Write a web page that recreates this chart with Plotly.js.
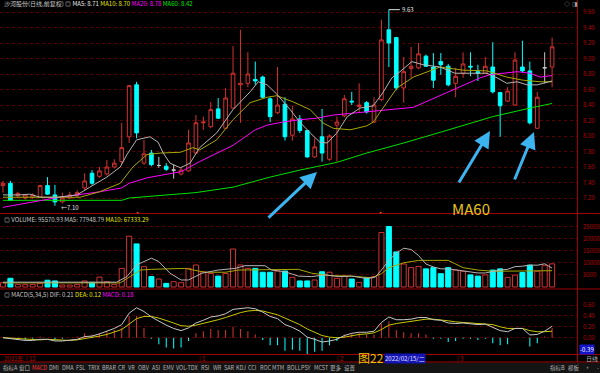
<!DOCTYPE html>
<html><head><meta charset="utf-8">
<script src="https://cdn.plot.ly/plotly-3.0.1.min.js"></script>
<style>html,body{margin:0;padding:0;background:#000;overflow:hidden}#chart{width:600px;height:373px}</style>
</head><body><div id="chart"></div>
<script>
// ---------- data ----------
const openP  = [7.36,7.39,7.23,7.20,7.21, 7.21,7.36,7.24,7.15,7.20, 7.23,7.33,7.52,7.48,7.51, 7.60,7.67,7.99,8.66,7.65, 7.78,7.62,7.61,7.56,7.51, 7.55,7.78,8.17,8.12,8.35, 8.10,8.36,8.66,8.68,8.73, 8.76,8.48,8.30,8.41,8.01, 8.22,8.07,7.73,7.99,7.70, 8.14,8.26,8.45,8.38,8.43, 8.18,8.47,9.37,9.27,8.62, 8.87,8.88,9.03,8.89,8.96, 8.90,8.68,8.81,8.90,8.83, 8.81,8.89,8.56,8.45,8.40, 8.89,8.84,8.10,8.88,8.89];
const highP  = [7.42,7.42,7.28,7.25,7.26, 7.37,7.47,7.37,7.27,7.28, 7.30,7.52,7.56,7.60,7.69, 7.70,8.17,8.66,8.70,7.95, 7.82,7.73,7.65,7.63,7.60, 8.08,8.27,8.25,8.44,8.49, 8.62,9.16,9.37,9.08,8.96, 8.78,8.50,8.89,8.50,8.39, 8.27,8.08,7.97,8.35,8.02, 8.25,8.53,8.57,8.68,8.45, 8.50,9.50,9.63,9.28,9.02, 9.15,9.20,9.05,9.07,9.07, 8.93,8.88,9.08,9.08,8.92, 9.02,9.21,8.57,8.63,9.08, 9.23,8.96,8.57,9.08,9.27];
const lowP   = [7.27,7.16,7.20,7.18,7.19, 7.20,7.24,7.10,7.13,7.19, 7.21,7.30,7.37,7.46,7.49, 7.58,7.64,7.91,7.97,7.63, 7.61,7.59,7.55,7.45,7.49, 7.54,7.77,8.08,8.10,8.22, 8.09,8.35,8.17,8.63,8.66, 8.49,8.18,8.28,7.94,7.94, 8.04,7.72,7.72,7.67,7.68, 7.67,8.24,8.40,8.31,8.29, 8.17,8.45,8.89,8.59,8.43, 8.75,8.86,8.89,8.62,8.79, 8.64,8.50,8.75,8.77,8.71, 8.80,8.55,7.99,8.44,8.39, 8.82,8.15,8.09,8.68,8.63];
const closeP = [7.39,7.17,7.26,7.24,7.24, 7.36,7.25,7.15,7.20,7.24, 7.27,7.42,7.39,7.55,7.60, 7.65,7.85,8.65,8.04,7.77, 7.63,7.62,7.57,7.56,7.56, 7.91,8.17,8.18,8.34,8.23, 8.49,8.81,8.68,8.80,8.71, 8.50,8.25,8.40,7.99,8.22, 8.07,7.73,7.86,7.78,8.00, 8.18,8.48,8.44,8.40,8.31, 8.40,9.24,9.20,8.62,8.83, 8.90,9.06,8.90,8.72,8.92, 8.66,8.77,8.93,8.89,8.81, 8.90,8.57,8.39,8.58,8.98, 8.84,8.17,8.50,8.88,9.15];
const volume = [1800,3600,1100,1100,1100, 1500,2800,2500,800,800, 1100,2500,1900,4100,2200, 1100,7700,21000,17800,8400, 4300,3300,1500,2200,1800, 7700,9100,6300,5600,4500, 5600,15700,9100,7700,7700, 6100,6100,6600,6600,4000, 2500,2500,2900,6300,6100, 3600,4500,3300,1900,3800, 4300,22500,25000,14500,9500, 8000,8500,7500,8000,5500, 8000,7000,6500,5000,4500, 5000,7000,7500,4000,4900, 6000,9000,6500,9000,9557];

// moving-average lines (candle position, value)
const ma5X  = [0,2.3,3.6,5,7.3,10,11.7,14,15.8,16.7,18,19.8,20.9,21.6,22.5,23.9,25.2,26.5,28.8,31,33.3,34.4,35.6,36.9,38.7,40,41.4,42.7,43.7,45,46.4,48.1,49.9,51.2,52.4,53.5,55.1,56.6,58.9,60.9,62.9,65.2,66.6,67.9,69.3,70.6,72,74];
const ma5   = [7.24,7.24,7.25,7.21,7.21,7.24,7.34,7.47,7.60,7.76,7.95,7.99,7.92,7.78,7.65,7.59,7.65,7.85,8.04,8.34,8.57,8.70,8.66,8.54,8.34,8.18,8.04,7.92,7.91,8.04,8.25,8.36,8.39,8.56,8.75,8.83,8.96,8.92,8.89,8.81,8.81,8.81,8.75,8.68,8.70,8.66,8.66,8.71];
const ma10X = [0,10.4,13,15.8,17.5,19.4,21.2,23.9,25.6,26.5,28.8,31,33.3,35.6,36.9,39.1,41.4,43.1,44.5,46.8,49,49.9,51.2,53.1,55.3,58.9,62,65.2,67.9,70.1,72.4,74];
const ma10  = [7.21,7.21,7.28,7.39,7.60,7.76,7.78,7.79,7.85,7.82,7.95,8.21,8.43,8.50,8.52,8.44,8.34,8.17,8.10,8.08,8.13,8.18,8.36,8.62,8.76,8.89,8.85,8.84,8.76,8.72,8.70,8.70];
const ma20X = [0,7,13,16,17,19.4,24,26.5,31,34,35.6,37.7,40,42.3,44.5,49,53.5,55.3,59.8,64.3,65.6,69.3,71,72.4,74];
const ma20  = [7.08,7.20,7.28,7.33,7.39,7.46,7.54,7.67,7.88,8.08,8.14,8.18,8.21,8.23,8.27,8.31,8.35,8.37,8.56,8.75,8.79,8.83,8.81,8.76,8.78];
const ma60X = [0,16,17,26,31,36,40,45,49,54,59,66,71,74];
const ma60  = [7.17,7.17,7.20,7.27,7.34,7.47,7.56,7.66,7.78,7.91,8.05,8.25,8.36,8.42];

const volMa5X  = [0,15.3,16.7,18,20,21,22.5,24,25,26.8,29,31.3,32.6,35.3,36.2,38,39.8,41.6,43.4,45.2,47,48.8,50.1,51,52,53,54,55,56,57,58,59,60,61,62,63,64,65,66,67,68,69,70,71,72,73,74];
const volMa5   = [2000,2000,4300,9100,11900,10500,5700,2900,2900,5700,7000,7700,8800,8800,7000,6300,4500,4300,5000,4300,4500,3600,3900,7000,11000,14000,16000,15500,13000,9500,8300,7500,7500,7000,6800,6300,5800,5800,6500,7000,7300,8400,8600,9100,9000,9600,7795];
const volMa10X = [0,15.8,17.5,18.5,20,24.5,27.2,30,31.7,35.7,39.8,41.6,44.3,47,49.7,51,52,53,54,55,56,58,60,61,62,63,64,66,68,70,72,74];
const volMa10  = [1700,1700,5000,7000,7300,7700,6100,6100,7000,7300,7300,5700,4700,4500,3800,5500,8000,9000,10000,10500,11000,11000,11000,9500,8000,7500,7000,6500,6500,6600,6700,6733];

const dif  = [0.00,-0.02,-0.04,-0.05,-0.05, -0.03,-0.03,-0.06,-0.06,-0.05, -0.03,0.02,0.03,0.07,0.12, 0.17,0.24,0.45,0.55,0.48, 0.38,0.30,0.23,0.17,0.13, 0.18,0.27,0.32,0.38,0.40, 0.44,0.52,0.54,0.55,0.53, 0.47,0.39,0.35,0.24,0.19, 0.12,0.01,-0.03,-0.08,-0.06, -0.03,0.04,0.08,0.10,0.10, 0.12,0.28,0.38,0.33,0.33, 0.34,0.37,0.37,0.33,0.32, 0.27,0.26,0.27,0.26,0.24, 0.25,0.19,0.13,0.11,0.17, 0.17,0.05,0.06,0.12,0.21];
const dea  = [0.00,-0.01,-0.02,-0.03,-0.04, -0.04,-0.03,-0.04,-0.05,-0.05, -0.04,-0.02,0.00,0.03,0.06, 0.10,0.15,0.25,0.35,0.39, 0.39,0.36,0.32,0.27,0.22, 0.21,0.23,0.26,0.30,0.33, 0.37,0.42,0.46,0.49,0.50, 0.49,0.46,0.42,0.36,0.30, 0.24,0.16,0.10,0.04,0.01, 0.00,0.01,0.04,0.06,0.07, 0.09,0.15,0.23,0.26,0.28, 0.30,0.33,0.34,0.34,0.33, 0.31,0.29,0.28,0.27,0.26, 0.26,0.24,0.20,0.17,0.17, 0.17,0.13,0.11,0.11,0.12];
const macd = [0.00,-0.02,-0.04,-0.04,-0.02, 0.02,0.00,-0.04,-0.02,0.00, 0.02,0.08,0.06,0.08,0.12, 0.14,0.18,0.40,0.40,0.18, -0.02,-0.12,-0.18,-0.20,-0.18, -0.06,0.08,0.12,0.16,0.14, 0.14,0.20,0.16,0.12,0.06, -0.04,-0.14,-0.14,-0.24,-0.22, -0.24,-0.30,-0.26,-0.24,-0.14, -0.06,0.06,0.08,0.08,0.06, 0.06,0.26,0.30,0.14,0.10, 0.08,0.08,0.06,-0.02,-0.02, -0.08,-0.06,-0.02,-0.02,-0.04, -0.02,-0.10,-0.14,-0.12,0.00, 0.00,-0.16,-0.10,0.02,0.18];

const priceTicks = [7.2,7.4,7.6,7.8,8.0,8.2,8.4,8.6,8.8,9.0,9.2,9.4,9.6];
const volTicks   = [5000,10000,15000,20000,25000];
const macdTicks  = [0,0.2,0.4,0.6];
const dateLabels = ['12','1','2','3'];
const dateLabelIdx = [2.8,26.1,44.8,60.9];
const tabLabels  = ['指标A','窗口','MACD','DMI','DMA','FSL','TRIX','BRAR','CR','VR','OBV','ASI','EMV','VOL-TDX','RSI','WR','SAR','KDJ','CCI','ROC','MTM','BOLL','PSY','MCST','更多','设置'];

// ---------- drawing ----------
const FONT = 'Noto Sans CJK SC, Noto Sans, sans-serif';
const RED = '#d23232', CYAN = '#00ffff', AXRED = '#b40000';
const W = 578, H = 355;           // plot area in px
const px = v => v / W, py = v => 1 - v / H;
const idx = openP.map((_, i) => i);

const isDoji = i => openP[i] === closeP[i];
const pick = (arr, f) => idx.filter(f).map(i => arr[i]);
const normal = i => !isDoji(i);

const traces = [];
traces.push({type:'candlestick', x: pick(idx, normal), open: pick(openP, normal), high: pick(highP, normal),
  low: pick(lowP, normal), close: pick(closeP, normal), xaxis:'x', yaxis:'y', whiskerwidth:0,
  increasing:{line:{color:RED, width:1}, fillcolor:'#000'},
  decreasing:{line:{color:CYAN, width:1}, fillcolor:CYAN}, hoverinfo:'skip', showlegend:false});
traces.push({type:'candlestick', x: pick(idx, isDoji), open: pick(openP, isDoji), high: pick(highP, isDoji),
  low: pick(lowP, isDoji), close: pick(closeP, isDoji), xaxis:'x', yaxis:'y', whiskerwidth:0,
  increasing:{line:{color:'#c8c8c8', width:1}, fillcolor:'#c8c8c8'},
  decreasing:{line:{color:'#c8c8c8', width:1}, fillcolor:'#c8c8c8'}, hoverinfo:'skip', showlegend:false});

const maLine = (x, y, color, ax) => ({type:'scatter', mode:'lines', x, y, xaxis:'x', yaxis:ax,
  line:{color, width:1}, hoverinfo:'skip', showlegend:false});
traces.push(maLine(ma60X, ma60, '#00e000', 'y'));
traces.push(maLine(ma20X, ma20, '#ff00ff', 'y'));
traces.push(maLine(ma10X, ma10, '#a8a800', 'y'));
traces.push(maLine(ma5X, ma5, '#b4b4b4', 'y'));

const up = i => closeP[i] >= openP[i];
const down = i => closeP[i] < openP[i];
traces.push({type:'bar', x: pick(idx, up), y: pick(volume, up), xaxis:'x', yaxis:'y2', width:0.68,
  marker:{color:'#000', line:{color:RED, width:1}}, hoverinfo:'skip', showlegend:false});
traces.push({type:'bar', x: pick(idx, down), y: pick(volume, down), xaxis:'x', yaxis:'y2', width:0.68,
  marker:{color:CYAN, line:{color:CYAN, width:1}}, hoverinfo:'skip', showlegend:false});
traces.push(maLine(volMa10X, volMa10, '#a8a800', 'y2'));
traces.push(maLine(volMa5X, volMa5, '#b4b4b4', 'y2'));

const pos = i => macd[i] >= 0, neg = i => macd[i] < 0;
traces.push({type:'bar', x: pick(idx, pos), y: pick(macd, pos), xaxis:'x', yaxis:'y3', width:0.14,
  marker:{color:RED, line:{width:0}}, hoverinfo:'skip', showlegend:false});
traces.push({type:'bar', x: pick(idx, neg), y: pick(macd, neg), xaxis:'x', yaxis:'y3', width:0.14,
  marker:{color:CYAN, line:{width:0}}, hoverinfo:'skip', showlegend:false});
traces.push(maLine(idx, dea, '#c8c800', 'y3'));
traces.push(maLine(idx, dif, '#c8c8c8', 'y3'));

const yBase = {side:'right', anchor:'x', showgrid:true, gridcolor:'#5a0000', griddash:'dot', gridwidth:1,
  zeroline:false, showline:false, ticks:'', ticklabelstandoff:4, fixedrange:true,
  tickfont:{color:AXRED, size:6, family:FONT}};

const annotations = [];
const A = o => annotations.push(Object.assign({xref:'paper', yref:'paper', showarrow:false,
  font:{family:FONT, size:6, color:'#c8c8c8'}}, o));

A({x:px(2), y:py(4), xanchor:'left', yanchor:'middle',
  text:'沙河股份(日线,前复权) ◎ <span style="color:#e6e6e6">MA5: 8.71</span> <span style="color:#e6e600">MA10: 8.70</span> <span style="color:#ff00ff">MA20: 8.78</span> <span style="color:#00e000">MA60: 8.42</span>'});
A({x:px(2), y:py(219.5), xanchor:'left', yanchor:'middle',
  text:'◎ VOLUME: 95570.93 MA5: 77948.79 <span style="color:#e6e600">MA10: 67333.29</span>'});
A({x:px(2), y:py(294.5), xanchor:'left', yanchor:'middle',
  text:'◎ MACD(5,34,5) DIF: 0.21 <span style="color:#e6e600">DEA: 0.12</span> <span style="color:#ff00ff">MACD: 0.18</span>'});
A({x:px(567), y:py(4), xanchor:'center', yanchor:'middle', text:'◇', font:{family:FONT,size:6,color:'#a0a0a0'}});
A({x:px(575), y:py(4), xanchor:'center', yanchor:'middle', text:'◨', font:{family:FONT,size:6,color:'#a0a0a0'}});

// price extremes
annotations.push({xref:'x', yref:'y', x:52, y:9.63, text:'9.63', showarrow:true, arrowhead:0, arrowwidth:1,
  arrowcolor:'#e0e0e0', ax:11, ay:0, xanchor:'left', font:{family:FONT, size:6, color:'#e0e0e0'}});
annotations.push({xref:'paper', yref:'paper', x:px(59), y:py(207), text:'←7.10', showarrow:false, xanchor:'left',
  yanchor:'middle', font:{family:FONT, size:6, color:'#e0e0e0'}});

// blue arrows
[[317,172,-50,47],[490,131,-32,53],[534,132,-20,49]].forEach(a => annotations.push({
  xref:'paper', yref:'paper', x:px(a[0]), y:py(a[1]), ax:a[2], ay:a[3], text:'', showarrow:true,
  arrowhead:2, arrowsize:1.1, arrowwidth:3, arrowcolor:'#3cb4f0'}));
A({x:px(471), y:py(208.5), xanchor:'center', yanchor:'middle', text:'MA60', font:{family:FONT, size:15, color:'#e6c31e'}});

// small markers on the price/volume border
A({x:px(137), y:py(211), xanchor:'center', yanchor:'middle', text:'▪', font:{family:FONT, size:5, color:'#ff6a2a'}});
A({x:px(380), y:py(211), xanchor:'center', yanchor:'middle', text:'▪', font:{family:FONT, size:5, color:'#ff6a2a'}});

// date strip
A({x:px(2), y:py(358.5), xanchor:'left', yanchor:'middle', text:'2021年', font:{family:FONT, size:6, color:AXRED}});
dateLabels.forEach((t, k) => annotations.push({xref:'x', yref:'paper', x:dateLabelIdx[k], y:py(358.5),
  xanchor:'left', yanchor:'middle', showarrow:false, text:'| ' + t, font:{family:FONT, size:6, color:AXRED}}));
A({x:px(371), y:py(357), xanchor:'center', yanchor:'middle', text:'图22', font:{family:FONT, size:12, color:'#f0c000'}});
A({x:px(384), y:py(358.5), xanchor:'left', yanchor:'middle', text:'2022/02/15/二', bgcolor:'#1414b4',
  borderpad:0, font:{family:FONT, size:6, color:'#e0e0ff'}});
A({x:px(579), y:py(349), xanchor:'left', yanchor:'middle', text:'-0.39', bgcolor:'#1414c8', borderpad:0,
  font:{family:FONT, size:6, color:'#ffffff'}});
A({x:px(584), y:py(358), xanchor:'left', yanchor:'middle', text:'日线', font:{family:FONT, size:6, color:'#b4b4b4'}});

// tab bar
const tabX = [1,17,30,47,60,74,86,100,116,126,136,150,161,174,199,211,222,234,246,258,270,285,299,312,328,342];
tabLabels.forEach((t, k) => A({x:px(tabX[k]), y:py(368), xanchor:'left', yanchor:'middle', text:t,
  font:{family:FONT, size:5.5, color: t === 'MACD' ? '#ff3030' : '#b4b4b4'}}));
[['指标B',548],['模板',566],['+',584],['-',595]].forEach(t => A({x:px(t[1]), y:py(368), xanchor:'left',
  yanchor:'middle', text:t[0], font:{family:FONT, size:5.5, color:'#b4b4b4'}}));

const L = (x0,y0,x1,y1,c,w,d) => ({type:'line', xref:'paper', yref:'paper', x0:px(x0), y0:py(y0), x1:px(x1), y1:py(y1),
  line:{color:c, width:w||1, dash:d||'solid'}});
const shapes = [
  {type:'rect', xref:'paper', yref:'paper', x0:px(0), x1:px(600), y0:py(362.5), y1:py(373), fillcolor:'#141414', line:{width:0}, layer:'below'},
  L(0,213.5,600,213.5,'#a00000'),
  L(0,289,600,289,'#a00000'),
  L(0,354.5,600,354.5,'#a00000'),
  L(0,362,600,362,'#a00000'),
  L(577.5,0,577.5,362,'#a00000')
];

const layout = {
  width:600, height:373, margin:{l:0, r:22, t:0, b:18}, paper_bgcolor:'#000', plot_bgcolor:'#000',
  showlegend:false, hovermode:false, barmode:'overlay', dragmode:false,
  font:{family:FONT, color:'#c8c8c8', size:6},
  xaxis:{range:[-0.404, 77.49], showgrid:false, zeroline:false, showticklabels:false, showline:false,
    ticks:'', rangeslider:{visible:false}, fixedrange:true},
  yaxis:Object.assign({}, yBase, {domain:[py(213), py(8)], range:[7.0065, 9.6516], tickvals:priceTicks,
    ticktext:priceTicks.map(v => v.toFixed(2))}),
  yaxis2:Object.assign({}, yBase, {domain:[py(288), py(215)], range:[-413, 29752], tickvals:volTicks,
    ticktext:volTicks.map(String)}),
  yaxis3:Object.assign({}, yBase, {domain:[0, py(290)], range:[-0.3174, 0.8752], tickvals:macdTicks,
    ticktext:macdTicks.map(v => v.toFixed(2))}),
  annotations, shapes
};
Plotly.newPlot('chart', traces, layout, {staticPlot:true, displayModeBar:false});
</script>
</body></html>
